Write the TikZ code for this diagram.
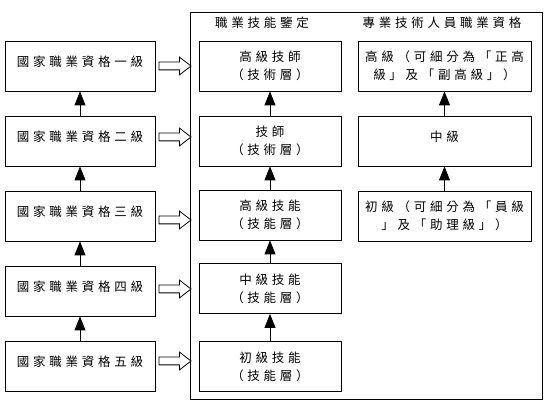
\documentclass[tikz,border=0pt]{standalone}
\usepackage{fontspec}
\setmainfont{Noto Sans CJK TC}[LetterSpace=30]
\usetikzlibrary{arrows.meta,shapes.arrows}
\begin{document}
\begin{tikzpicture}[x=1pt, y=-1pt,
        box/.style={draw, line width=0.8pt, inner sep=0pt, align=center, font=\fontsize{12.5}{18}\selectfont},
        lbox/.style={box, minimum width=150pt, minimum height=50pt, text depth=10pt},
        mbox/.style={box, minimum width=142pt, minimum height=50pt},
        rbox/.style={box, minimum width=173pt, minimum height=50pt},
        up/.style={line width=0.8pt, -{Triangle[width=11pt, length=14pt]}},
        hollow/.style={single arrow, draw, line width=0.8pt, inner xsep=0pt, inner ysep=3.5pt, minimum height=32pt,
            single arrow head extend=5pt, single arrow tip angle=75},
        head/.style={font=\fontsize{12.5}{18}\selectfont}]
        \useasboundingbox (0,0) rectangle (550,414);

        % Frame
        \node[draw, line width=0.8pt, inner sep=0pt, minimum width=352pt, minimum height=387pt] at (366, 205.5) (frame) {};
        \node[head] at (262, 23) (hskill) {職業技能鑒定};
        \node[head] at (442, 23) (hpro)   {專業技術人員職業資格};

        % Nodes
        \node[lbox] at (80, 66)  (l1) {國家職業資格一級};
        \node[lbox] at (80, 141) (l2) {國家職業資格二級};
        \node[lbox] at (80, 216) (l3) {國家職業資格三級};
        \node[lbox] at (80, 291) (l4) {國家職業資格四級};
        \node[lbox] at (80, 366) (l5) {國家職業資格五級};

        \node[mbox] at (270, 66)    (m1) {高級技師\\（技術層）};
        \node[mbox] at (270, 141)   (m2) {技師\\（技術層）};
        \node[mbox] at (270, 215)   (m3) {高級技能\\（技能層）};
        \node[mbox] at (270, 288.5) (m4) {中級技能\\（技能層）};
        \node[mbox] at (270, 366.5) (m5) {初級技能\\（技能層）};

        \node[rbox] at (444.5, 66)  (r1) {高級（可細分為「正高\\級」及「副高級」）};
        \node[rbox, text depth=10pt] at (444.5, 141) (r2) {中級};
        \node[rbox] at (444.5, 216) (r3) {初級（可細分為「員級\\」及「助理級」）};

        \draw[up] (l2) -- (l1);
        \draw[up] (l3) -- (l2);
        \draw[up] (l4) -- (l3);
        \draw[up] (l5) -- (l4);

        \draw[up] (m2) -- (m1);
        \draw[up] (m3) -- (m2);
        \draw[up] (m4) -- (m3);
        \draw[up] (m5) -- (m4);

        \draw[up] (r2) -- (r1);
        \draw[up] (r3) -- (r2);

        \path (l1.east)              -- node[hollow] {} (l1.east -| frame.west);
        \path ([yshift=4pt]l2.east)  -- node[hollow] {} ([yshift=4pt]l2.east -| frame.west);
        \path ([yshift=-4pt]l3.east) -- node[hollow] {} ([yshift=-4pt]l3.east -| frame.west);
        \path ([yshift=2pt]l4.east)  -- node[hollow] {} ([yshift=2pt]l4.east -| frame.west);
        \path ([yshift=5pt]l5.east)  -- node[hollow] {} ([yshift=5pt]l5.east -| frame.west);
    \end{tikzpicture}
\end{document}
